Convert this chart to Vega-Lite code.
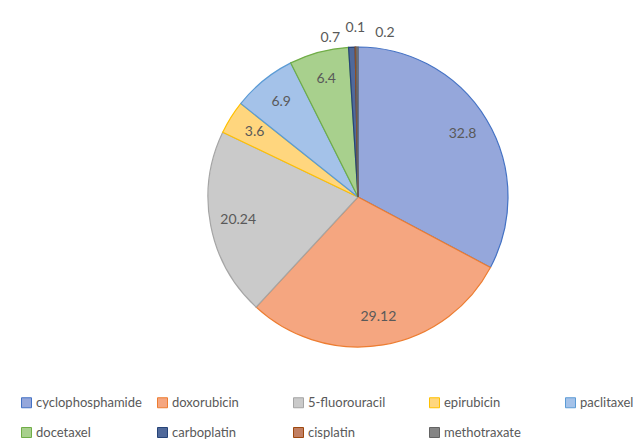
{
  "$schema": "https://vega.github.io/schema/vega-lite/v6.json",
  "width": 300,
  "height": 300,
  "autosize": {"type": "none"},
  "padding": {"left": 208, "top": 47, "right": 135, "bottom": 99},
  "background": "white",
  "config": {"view": {"stroke": null}, "font": "Lato"},
  "data": {"values": [
    {"idx": 1, "drug": "cyclophosphamide", "value": 32.8, "label": "32.8"},
    {"idx": 2, "drug": "doxorubicin", "value": 29.12, "label": "29.12"},
    {"idx": 3, "drug": "5-fluorouracil", "value": 20.24, "label": "20.24"},
    {"idx": 4, "drug": "epirubicin", "value": 3.6, "label": "3.6"},
    {"idx": 5, "drug": "paclitaxel", "value": 6.9, "label": "6.9"},
    {"idx": 6, "drug": "docetaxel", "value": 6.4, "label": "6.4"},
    {"idx": 7, "drug": "carboplatin", "value": 0.7, "label": "0.7"},
    {"idx": 8, "drug": "cisplatin", "value": 0.1, "label": "0.1"},
    {"idx": 9, "drug": "methotraxate", "value": 0.2, "label": "0.2"}
  ]},
  "encoding": {
    "theta": {"field": "value", "type": "quantitative", "stack": true},
    "order": {"field": "idx", "type": "quantitative"}
  },
  "layer": [
    {
      "mark": {"type": "arc", "strokeWidth": 1.2},
      "encoding": {
        "color": {
          "field": "drug", "type": "nominal",
          "scale": {
            "domain": ["cyclophosphamide", "doxorubicin", "5-fluorouracil", "epirubicin", "paclitaxel", "docetaxel", "carboplatin", "cisplatin", "methotraxate"],
            "range": ["#95A7DB", "#F5A680", "#CACACA", "#FFD67E", "#A4C2E9", "#A8D08D", "#50699A", "#C17F62", "#858585"]
          },
          "legend": {
            "title": null, "orient": "none", "legendX": -188, "legendY": 349,
            "columns": 5, "gridAlign": "all", "direction": "horizontal",
            "symbolType": "square", "symbolSize": 100, "symbolStrokeWidth": 1,
            "labelFontSize": 13, "labelColor": "#595959", "labelFont": "Lato",
            "labelLimit": 200, "labelOffset": 3, "columnPadding": 13, "rowPadding": 15, "padding": 0
          }
        },
        "stroke": {
          "field": "drug", "type": "nominal",
          "scale": {
            "domain": ["cyclophosphamide", "doxorubicin", "5-fluorouracil", "epirubicin", "paclitaxel", "docetaxel", "carboplatin", "cisplatin", "methotraxate"],
            "range": ["#4472C4", "#ED7D31", "#A5A5A5", "#FFC000", "#5B9BD5", "#70AD47", "#264478", "#9E480E", "#636363"]
          }
        }
      }
    },
    {
      "mark": {"type": "text", "radius": 122, "fontSize": 14, "color": "#595959"},
      "encoding": {
        "text": {"field": "label"},
        "opacity": {"condition": {"test": "datum.value > 1", "value": 1}, "value": 0}
      }
    },
    {
      "mark": {"type": "text", "radius": 165, "dx": -21, "dy": 6, "fontSize": 14, "color": "#595959"},
      "encoding": {
        "text": {"field": "label"},
        "opacity": {"condition": {"test": "datum.drug === 'carboplatin'", "value": 1}, "value": 0}
      }
    },
    {
      "mark": {"type": "text", "radius": 170, "dy": 1, "fontSize": 14, "color": "#595959"},
      "encoding": {
        "text": {"field": "label"},
        "opacity": {"condition": {"test": "datum.drug === 'cisplatin'", "value": 1}, "value": 0}
      }
    },
    {
      "mark": {"type": "text", "radius": 166, "dx": 28, "dy": 2, "fontSize": 14, "color": "#595959"},
      "encoding": {
        "text": {"field": "label"},
        "opacity": {"condition": {"test": "datum.drug === 'methotraxate'", "value": 1}, "value": 0}
      }
    }
  ]
}
